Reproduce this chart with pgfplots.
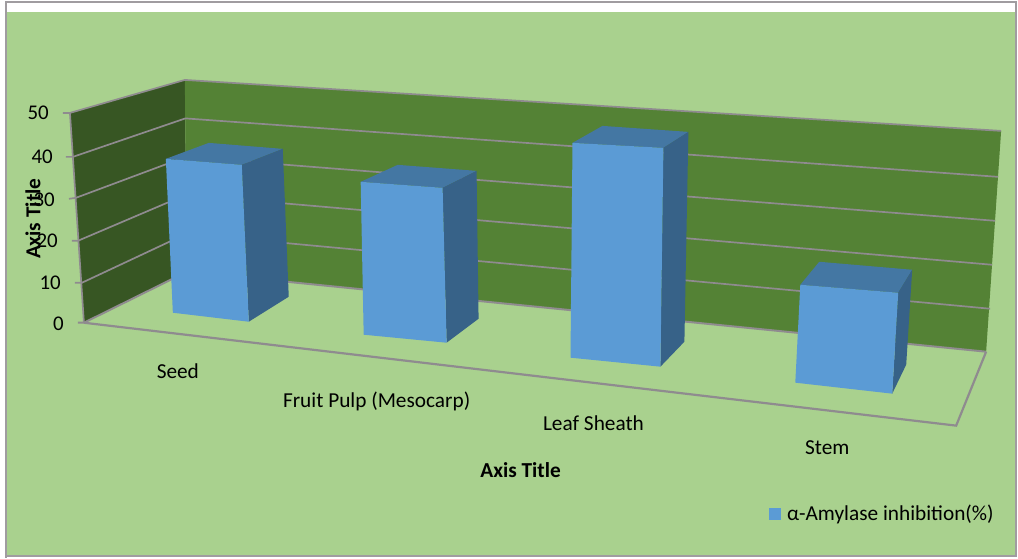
\documentclass[border=0pt]{standalone}
\usepackage{pgfplots}
\pgfplotsset{compat=1.18}
\usepackage{fontspec}
\setmainfont{Carlito}
\definecolor{chartbg}{HTML}{A9D18E}
\definecolor{backwall}{HTML}{548235}
\definecolor{sidewall}{HTML}{375623}
\definecolor{gridgrey}{HTML}{8F8B8F}
\definecolor{barfront}{HTML}{5B9BD5}
\definecolor{bartop}{HTML}{4477A3}
\definecolor{barside}{HTML}{376288}
\begin{document}
\begin{tikzpicture}
  \begin{axis}[
      scale only axis,
      width=1018bp, height=558bp,
      xmin=0, xmax=1018,
      ymin=0, ymax=558,
      y dir=reverse,
      axis lines=none,
      clip=false,
      legend style={at={(axis cs:769,514)}, anchor=west, draw=none, fill=none,
        inner sep=0pt, font=\fontsize{21.4}{23}\selectfont,
        /tikz/every even column/.style={column sep=0pt}},
      legend image code/.code={\fill[barfront] (0bp,-6bp) rectangle (12bp,6bp);},
      legend cell align=left,
    ]
    % chart area and frame
    \addplot[fill=white, draw=none, forget plot] coordinates {(0,0)(1018,0)(1018,558)(0,558)} -- cycle;
    \addplot[fill=chartbg, draw=none, forget plot] coordinates {(7,12)(1016,12)(1016,555)(7,555)} -- cycle;
    \addplot[draw=gridgrey!85!white, line width=1.8bp, forget plot] coordinates {(6.3,558)(6.3,2)(1018,2)};
    \addplot[draw=gridgrey!85!white, line width=2bp, forget plot] coordinates {(6,556)(1017,556)(1017,2)};

    % walls
    \addplot[fill=sidewall, draw=none, forget plot] coordinates {(70,113)(185,80)(187,272)(84,323)} -- cycle;
    \addplot[fill=backwall, draw=none, forget plot] coordinates {(185,80)(1002,131)(987,352)(187,272)} -- cycle;

    % gridlines 50,40,...,0 with their ticks
    \addplot[draw=gridgrey, line width=1.7bp, forget plot] coordinates {(63,113)(70,113)(185,80)(1002,131)};
    \addplot[draw=gridgrey, line width=1.7bp, forget plot] coordinates {(66,157)(73,157)(185.5,118.5)(999,177)};
    \addplot[draw=gridgrey, line width=1.7bp, forget plot] coordinates {(69,199)(76,198)(186,157)(996,221)};
    \addplot[draw=gridgrey, line width=1.7bp, forget plot] coordinates {(72,241)(78,241)(186,195)(993,265)};
    \addplot[draw=gridgrey, line width=1.7bp, forget plot] coordinates {(75,283)(82,283)(186.5,234)(991,309)};
    \addplot[draw=gridgrey, line width=2bp, forget plot] coordinates {(78,323)(84,323)(187,272)(987,352)};
    % axis edges and floor
    \addplot[draw=gridgrey, line width=1.7bp, forget plot] coordinates {(70,113)(84,323)};
    \addplot[draw=gridgrey, line width=2.2bp, forget plot] coordinates {(84,323)(957,426)(987,352)};

    % Seed
    \addplot[fill=bartop, draw=none, forget plot] coordinates {(166,159)(209,143)(283,149)(242,165)} -- cycle;
    \addplot[fill=barside, draw=none, forget plot] coordinates {(242,165)(283,149)(289,297)(249,322)} -- cycle;
    \addplot[fill=barfront, draw=none] coordinates {(166,159)(242,165)(249,322)(173,313)} -- cycle;
    \addlegendentry{\hspace{4.5bp}α-Amylase inhibition(\%)}
    % Fruit Pulp
    \addplot[fill=bartop, draw=none, forget plot] coordinates {(361,182)(398,165)(477,171)(443,188)} -- cycle;
    \addplot[fill=barside, draw=none, forget plot] coordinates {(443,188)(477,171)(479,319)(447,343)} -- cycle;
    \addplot[fill=barfront, draw=none, forget plot] coordinates {(361,182)(443,188)(447,343)(364,335)} -- cycle;
    % Leaf Sheath
    \addplot[fill=bartop, draw=none, forget plot] coordinates {(573,143)(603,126)(689,132)(664,148)} -- cycle;
    \addplot[fill=barside, draw=none, forget plot] coordinates {(664,148)(689,132)(685,342)(661,367)} -- cycle;
    \addplot[fill=barfront, draw=none, forget plot] coordinates {(573,143)(664,148)(661,367)(571,358)} -- cycle;
    % Stem
    \addplot[fill=bartop, draw=none, forget plot] coordinates {(801,285)(820,262)(913,270)(899,293)} -- cycle;
    \addplot[fill=barside, draw=none, forget plot] coordinates {(899,293)(913,270)(907,365)(893,394)} -- cycle;
    \addplot[fill=barfront, draw=none, forget plot] coordinates {(801,285)(899,293)(893,394)(796,383)} -- cycle;

    % value axis numbers
    \node[anchor=east, inner sep=0pt, font=\fontsize{21}{23}\selectfont] at (axis cs:49,113) {50};
    \node[anchor=east, inner sep=0pt, font=\fontsize{21}{23}\selectfont] at (axis cs:53,157) {40};
    \node[anchor=east, inner sep=0pt, font=\fontsize{21}{23}\selectfont] at (axis cs:55,200) {30};
    \node[anchor=east, inner sep=0pt, font=\fontsize{21}{23}\selectfont] at (axis cs:58,241) {20};
    \node[anchor=east, inner sep=0pt, font=\fontsize{21}{23}\selectfont] at (axis cs:61,283) {10};
    \node[anchor=east, inner sep=0pt, font=\fontsize{21}{23}\selectfont] at (axis cs:64,324) {0};

    % category names
    \node[font=\fontsize{21.4}{23}\selectfont] at (axis cs:178,371) {Seed};
    \node[font=\fontsize{21.4}{23}\selectfont] at (axis cs:377,402) {Fruit Pulp (Mesocarp)};
    \node[font=\fontsize{21.4}{23}\selectfont] at (axis cs:594,424) {Leaf Sheath};
    \node[font=\fontsize{21.4}{23}\selectfont] at (axis cs:828,448) {Stem};

    % axis titles
    \node[font=\bfseries\fontsize{21.4}{23}\selectfont] at (axis cs:521,471) {Axis Title};
    \node[font=\bfseries\fontsize{21.4}{23}\selectfont, rotate=90] at (axis cs:33,219) {Axis Title};
  \end{axis}
\end{tikzpicture}
\end{document}
